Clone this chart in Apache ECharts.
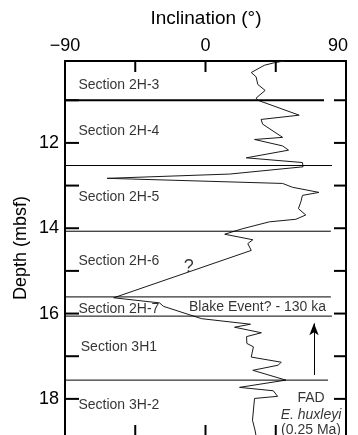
<!DOCTYPE html>
<html>
<head>
<meta charset="utf-8">
<script src="https://cdn.jsdelivr.net/npm/echarts@6/dist/echarts.min.js"></script>
<style>
  html, body { margin: 0; padding: 0; background: #fff; overflow: hidden; height: 435px; }
  /* the plot runs just past the bottom edge of the window, as in the printed log */
  #chart { width: 358px; height: 445px; }
</style>
</head>
<body>
<div id="chart"></div>
<script>
// Paleomagnetic inclination (degrees) down the core, depth in mbsf
const inclination = [50.4, 44.1, 37.7, 29.3, 32.4, 33.5, 38.2, 32.4, 33.5, 60.0,
  35.6, 36.6, 49.4, 31.4, 49.4, 53.2, 26.1, 62.1, 62.5, 15.5,
  -63.0, 49.4, 55.7, 72.7, 62.1, 61.1, 59.5, 64.2, 57.9, 40.9,
  23.9, 12.3, 30.3, 27.1, 29.3, -58.8, -29.4, -27.0, -2.5, 28.8,
  18.6, 35.8, 26.3, 26.5, 30.7, 29.3, 48.5, 46.6, 30.3, 51.5,
  21.8, 43.4, 46.2, 31.4, 30.1, 31.7, 32.4];
const depth = [10.08, 10.12, 10.18, 10.35, 10.45, 10.63, 10.77, 10.95, 11.0, 11.35,
  11.45, 11.56, 11.87, 11.92, 12.07, 12.17, 12.35, 12.46, 12.56, 12.73,
  12.83, 12.95, 13.04, 13.16, 13.23, 13.38, 13.54, 13.69, 13.79, 13.85,
  14.01, 14.14, 14.27, 14.36, 14.52, 15.63, 15.75, 15.83, 16.12, 16.25,
  16.32, 16.45, 16.54, 16.70, 16.78, 17.02, 17.14, 17.21, 17.33, 17.56,
  17.73, 17.81, 17.94, 17.99, 18.50, 18.73, 18.87];

// Axis ticks and labels
const incTicks = [-45, 0, 45];
const incLabels = [-90, 0, 90];
const depthTicks = [11, 12, 13, 14, 15, 16, 17, 18];
const depthLabels = [12, 14, 16, 18];

// Core section boundaries: depth and horizontal extent (inclination units)
const boundaryDepth = [11.0, 12.53, 14.07, 15.61, 16.06, 17.56];
const boundaryFrom = [-90, -90, -90, -90, -90, -93.3];
const boundaryTo = [75.9, 81.0, 80.3, 80.3, 81.0, 78.5];

// Section names and where they are written
const sectionNames = ['Section 2H-3', 'Section 2H-4', 'Section 2H-5', 'Section 2H-6',
  'Section 2H-7', 'Section 3H1', 'Section 3H-2'];
const sectionInc = [-81.4, -81.4, -81.4, -81.4, -81.4, -79.9, -81.4];
const sectionDepth = [10.65, 11.73, 13.27, 14.77, 15.89, 16.78, 18.15];

// Annotations
const noteTexts = ['Blake Event? - 130 ka', '?', 'FAD', 'E. huxleyi', '(0.25 Ma)'];
const noteInc = [33.3, -10.8, 67.6, 67.6, 67.6];
const noteDepth = [15.86, 14.91, 17.98, 18.38, 18.73];
// Arrow from the FAD level up to the Blake Event (head centred just below its tip)
const arrowInc = 69.5;
const arrowFrom = 17.44;
const arrowTo = 16.23;

const FONT = '"Liberation Sans", Arial, Helvetica, sans-serif';
const xMin = -90, xMax = 90;
const yMin = 10.08, yMax = 18.87;

const chart = echarts.init(document.getElementById('chart'));

function frameLine() {
  return { show: true, onZero: false, lineStyle: { color: '#000', width: 2 } };
}

// Inward tick marks on all four sides of the frame: [x, y, side]
// side 0 = left, 1 = right, 2 = top, 3 = bottom
const SIDE_LEFT = 0, SIDE_RIGHT = 1, SIDE_TOP = 2, SIDE_BOTTOM = 3;
const tickLen = [14, 12, 11, 11];
const tickItems = [].concat(
  depthTicks.map(d => [xMin, d, SIDE_LEFT]),
  depthTicks.map(d => [xMax, d, SIDE_RIGHT]),
  incTicks.map(v => [v, yMin, SIDE_TOP]),
  incTicks.map(v => [v, yMax, SIDE_BOTTOM])
);

function renderTick(params, api) {
  const p = api.coord([api.value(0), api.value(1)]);
  const side = api.value(2);
  const len = tickLen[side];
  let x2 = p[0], y2 = p[1];
  if (side === SIDE_LEFT) x2 += len;
  else if (side === SIDE_RIGHT) x2 -= len;
  else if (side === SIDE_TOP) y2 += len;
  else y2 -= len;
  return {
    type: 'line',
    shape: { x1: p[0], y1: p[1], x2: x2, y2: y2 },
    style: { stroke: '#000', lineWidth: 2 }
  };
}

const boundarySeries = boundaryDepth.map((d, i) => ({
  type: 'line',
  clip: false,
  symbol: 'none',
  silent: true,
  lineStyle: { color: '#000', width: i === 0 ? 2 : 1 },
  data: [[boundaryFrom[i], d], [boundaryTo[i], d]]
}));

const noteItems = noteTexts.map((t, i) => {
  const label = {
    show: true,
    formatter: t,
    position: [0, 0],
    align: 'center',
    verticalAlign: 'middle',
    fontFamily: FONT,
    fontSize: 14,
    color: '#000'
  };
  if (t === '?') label.fontSize = 18;
  if (t === 'E. huxleyi') label.fontStyle = 'italic';
  return { value: [noteInc[i], noteDepth[i]], label };
});

const option = {
  animation: false,
  grid: { left: 65, right: 12, top: 61, height: 375, outerBoundsMode: 'none' },
  xAxis: [
    {
      type: 'value', position: 'top', min: xMin, max: xMax,
      axisLine: frameLine(),
      axisTick: { show: false },
      axisLabel: {
        show: true, customValues: incLabels, margin: 6,
        fontFamily: FONT, fontSize: 18, color: '#000',
        formatter: v => v < 0 ? '{n|\u2212' + Math.abs(v) + '}' : (v > 0 ? '{r|' + v + '}' : '{n|' + v + '}'),
        rich: {
          n: { fontFamily: FONT, fontSize: 18, color: '#000' },
          r: { fontFamily: FONT, fontSize: 18, color: '#000', padding: [0, 16, 0, 0] }
        }
      },
      splitLine: { show: false }
    },
    {
      type: 'value', position: 'bottom', min: xMin, max: xMax,
      axisLine: frameLine(),
      axisTick: { show: false },
      axisLabel: { show: false },
      splitLine: { show: false }
    }
  ],
  yAxis: [
    {
      type: 'value', position: 'left', inverse: true, min: yMin, max: yMax,
      axisLine: frameLine(),
      axisTick: { show: false },
      axisLabel: {
        show: true, customValues: depthLabels, margin: 6,
        fontFamily: FONT, fontSize: 18, color: '#000'
      },
      splitLine: { show: false }
    },
    {
      type: 'value', position: 'right', inverse: true, min: yMin, max: yMax,
      axisLine: frameLine(),
      axisTick: { show: false },
      axisLabel: { show: false },
      splitLine: { show: false }
    }
  ],
  graphic: [
    {
      type: 'text', x: 206, y: 19,
      style: { text: 'Inclination (\u00b0)', font: '19px ' + FONT, fill: '#000', align: 'center', verticalAlign: 'middle' }
    },
    {
      type: 'text', x: 21, y: 248, rotation: Math.PI / 2,
      style: { text: 'Depth (mbsf)', font: '18px ' + FONT, fill: '#000', align: 'center', verticalAlign: 'middle' }
    }
  ],
  series: [
    {
      type: 'line',
      symbol: 'none',
      lineStyle: { color: '#1a1a1a', width: 1 },
      data: inclination.map((v, i) => [v, depth[i]])
    },
    ...boundarySeries,
    {
      type: 'custom',
      silent: true,
      clip: false,
      renderItem: renderTick,
      encode: { x: 0, y: 1 },
      data: tickItems,
      z: 10
    },
    {
      type: 'scatter',
      symbolSize: 0,
      silent: true,
      data: sectionNames.map((n, i) => ({
        value: [sectionInc[i], sectionDepth[i]],
        label: {
          show: true, formatter: n, position: [0, 0], align: 'left', verticalAlign: 'middle',
          fontFamily: FONT, fontSize: 14, color: '#000'
        }
      }))
    },
    {
      type: 'scatter',
      symbolSize: 0,
      silent: true,
      data: noteItems,
      markLine: {
        silent: true,
        symbol: ['none', 'arrow'],
        symbolSize: [7, 12],
        label: { show: false },
        lineStyle: { color: '#000', width: 1, type: 'solid' },
        data: [[{ coord: [arrowInc, arrowFrom] }, { coord: [arrowInc, arrowTo] }]]
      }
    }
  ]
};

chart.setOption(option);
</script>
</body>
</html>
